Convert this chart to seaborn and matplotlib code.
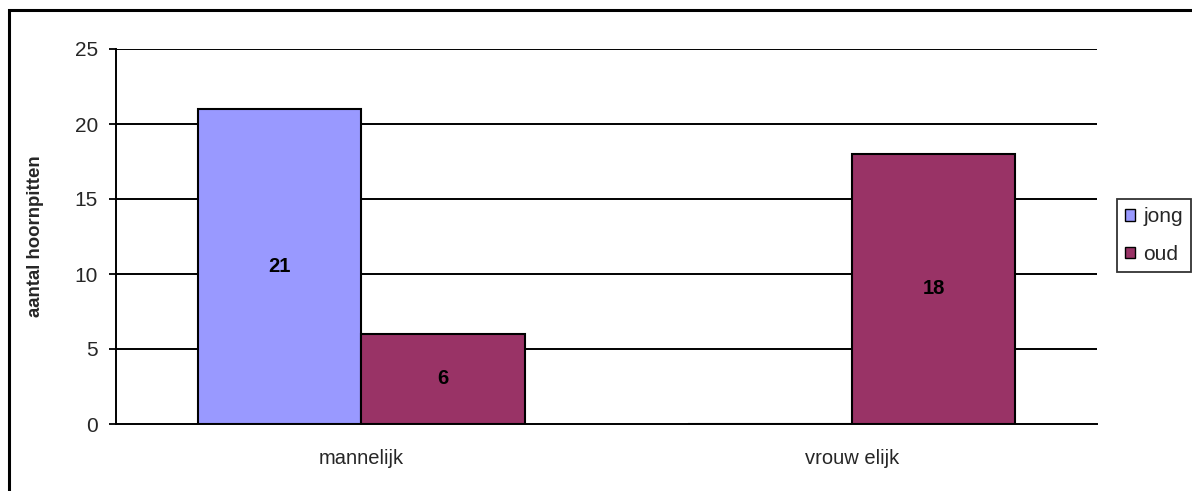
import numpy as np
import pandas as pd
import matplotlib
matplotlib.use("Agg")
import matplotlib.pyplot as plt
from matplotlib.patches import Patch, Rectangle
import seaborn as sns

# Data
categories = ["mannelijk", "vrouw elijk"]
groups = ["jong", "oud"]
jong_values = [21, 0]
oud_values = [6, 18]
y_ticks = [0, 5, 10, 15, 20, 25]

colors = {"jong": "#9999FF", "oud": "#993366"}

df = pd.DataFrame({
    "geslacht": categories * 2,
    "leeftijd": ["jong"] * len(categories) + ["oud"] * len(categories),
    "aantal": jong_values + oud_values,
})

sns.set_style("white")
plt.rcParams["font.family"] = ["Liberation Sans", "DejaVu Sans"]

fig = plt.figure(figsize=(11.92, 4.91), dpi=100)
W, H = 1192, 491
left, right, top, bottom = 116, 1097, 49, 424
ax = fig.add_axes([left / W, 1 - bottom / H, (right - left) / W, (bottom - top) / H])

# horizontal gridlines behind the bars
for y in y_ticks[1:]:
    ax.axhline(y, color="black", lw=1.4, zorder=0)

sns.barplot(data=df, x="geslacht", y="aantal", hue="leeftijd", order=categories,
            hue_order=groups, palette=colors, width=0.667, edgecolor="black",
            linewidth=1.5, saturation=1, ax=ax, legend=False, zorder=2)

# value labels at the middle of each bar
for container in ax.containers:
    for bar in container:
        h = bar.get_height()
        if h and not np.isnan(h):
            ax.text(bar.get_x() + bar.get_width() / 2, h / 2, f"{int(h)}",
                    ha="center", va="center", fontsize=14.5, fontweight="bold",
                    color="black", zorder=3)

ax.set_xlim(-0.5, 1.5)
ax.set_ylim(0, 25)
ax.set_yticks(y_ticks)
ax.set_yticklabels([str(t) for t in y_ticks], fontsize=15)
ax.set_xticks([0, 1])
ax.set_xticklabels(categories, fontsize=14.5)
ax.set_xticks([-0.5, 0.5, 1.5], minor=True)
ax.tick_params(axis="x", which="major", length=0, pad=18)
ax.tick_params(axis="x", which="minor", length=5, width=1.3, color="black", direction="out")
ax.tick_params(axis="y", length=5, width=1.3, color="black", direction="out", pad=8, left=True)
ax.set_xlabel("")
ax.set_ylabel("aantal hoornpitten", fontsize=13.4, fontweight="bold", labelpad=22)

for side in ["top", "right"]:
    ax.spines[side].set_visible(False)
for side in ["left", "bottom"]:
    ax.spines[side].set_visible(True)
    ax.spines[side].set_color("black")
    ax.spines[side].set_linewidth(1.4)

handles = [Patch(facecolor=colors[g], edgecolor="black", linewidth=1.0, label=g) for g in groups]
leg = fig.legend(handles=handles, loc="upper left",
                 bbox_to_anchor=(1117 / W, 1 - 199 / H), fontsize=15,
                 frameon=True, fancybox=False, handlelength=0.45, handleheight=0.45,
                 handletextpad=0.4, labelspacing=0.9, borderpad=0.4, borderaxespad=0)
leg.get_frame().set_edgecolor("black")
leg.get_frame().set_linewidth(1.3)

# outer chart border
fig.patches.append(Rectangle((9 / W, -0.05), 1.2, 1 - 10 / H + 0.05,
                             transform=fig.transFigure, fill=False,
                             edgecolor="black", linewidth=2.2))

fig.savefig("out.png", dpi=100, facecolor="white")
